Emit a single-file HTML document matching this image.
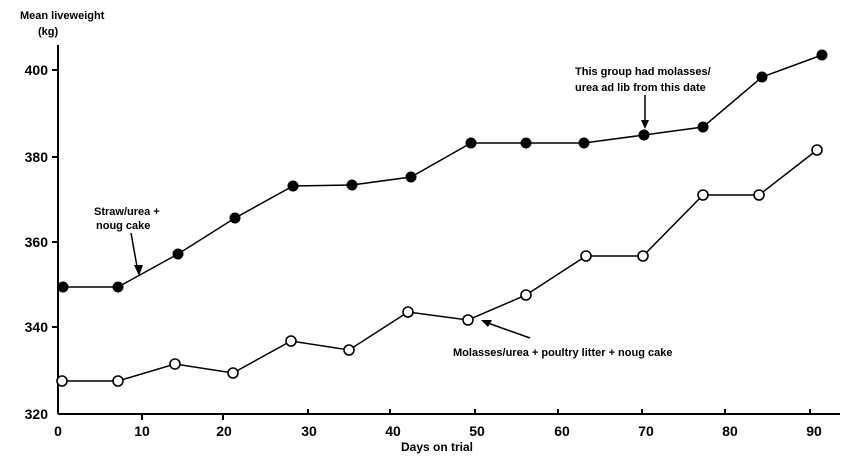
<!DOCTYPE html>
<html><head><meta charset="utf-8"><style>
html,body{margin:0;padding:0;background:#fff;}
svg{display:block;}
text{font-family:"Liberation Sans",sans-serif;font-weight:bold;fill:#000;}
</style></head><body>
<svg width="847" height="465" viewBox="0 0 847 465" xmlns="http://www.w3.org/2000/svg">
<g stroke="#000" stroke-width="2" fill="none">
<line x1="58" y1="45" x2="58" y2="414"/>
<line x1="58" y1="414" x2="840" y2="414"/>
<line x1="52" y1="70" x2="58" y2="70"/>
<line x1="52" y1="157" x2="58" y2="157"/>
<line x1="52" y1="242" x2="58" y2="242"/>
<line x1="52" y1="327" x2="58" y2="327"/>
<line x1="142" y1="414" x2="142" y2="420"/>
<line x1="223" y1="414" x2="223" y2="420"/>
<line x1="308" y1="414" x2="308" y2="409"/>
<line x1="390" y1="414" x2="390" y2="409"/>
<line x1="475" y1="414" x2="475" y2="409"/>
<line x1="558" y1="414" x2="558" y2="409"/>
<line x1="642" y1="414" x2="642" y2="409"/>
<line x1="725" y1="414" x2="725" y2="409"/>
<line x1="810" y1="414" x2="810" y2="409"/>
</g>
<g font-size="14">
<text x="48" y="75" text-anchor="end">400</text>
<text x="48" y="162" text-anchor="end">380</text>
<text x="48" y="247" text-anchor="end">360</text>
<text x="48" y="332" text-anchor="end">340</text>
<text x="48" y="419" text-anchor="end">320</text>
<text x="58" y="436" text-anchor="middle">0</text>
<text x="142" y="436" text-anchor="middle">10</text>
<text x="224" y="436" text-anchor="middle">20</text>
<text x="309" y="436" text-anchor="middle">30</text>
<text x="393" y="436" text-anchor="middle">40</text>
<text x="477" y="436" text-anchor="middle">50</text>
<text x="562" y="436" text-anchor="middle">60</text>
<text x="646" y="436" text-anchor="middle">70</text>
<text x="730" y="436" text-anchor="middle">80</text>
<text x="814" y="436" text-anchor="middle">90</text>
</g>
<g font-size="11">
<text x="20" y="19">Mean liveweight</text>
<text x="38" y="35">(kg)</text>
<text x="437" y="451" text-anchor="middle" font-size="12">Days on trial</text>
<text x="94" y="215">Straw/urea +</text>
<text x="96" y="229">noug cake</text>
<text x="575" y="75">This group had molasses/</text>
<text x="575" y="91">urea ad lib from this date</text>
<text x="453" y="356">Molasses/urea + poultry litter + noug cake</text>
</g>
<g stroke="#000" stroke-width="1.5" fill="none">
<line x1="131" y1="233" x2="138" y2="272"/>
<line x1="645" y1="95" x2="645" y2="124"/>
<line x1="530" y1="338" x2="485" y2="322"/>
</g>
<g fill="#000">
<polygon points="134,265 143,265 139,276"/>
<polygon points="641,120 649,120 645,129"/>
<polygon points="481,320 492,320 488,327"/>
</g>
<polyline fill="none" stroke="#000" stroke-width="1.5" points="63,287 118,287 178,254 235,218 293,186 352,185 411,177 471,143 526,143 584,143 644,135 703,127 762,77 822,55"/>
<g fill="#000">
<circle cx="63" cy="287" r="5.5"/><circle cx="118" cy="287" r="5.5"/><circle cx="178" cy="254" r="5.5"/><circle cx="235" cy="218" r="5.5"/><circle cx="293" cy="186" r="5.5"/><circle cx="352" cy="185" r="5.5"/><circle cx="411" cy="177" r="5.5"/><circle cx="471" cy="143" r="5.5"/><circle cx="526" cy="143" r="5.5"/><circle cx="584" cy="143" r="5.5"/><circle cx="644" cy="135" r="5.5"/><circle cx="703" cy="127" r="5.5"/><circle cx="762" cy="77" r="5.5"/><circle cx="822" cy="55" r="5.5"/>
</g>
<polyline fill="none" stroke="#000" stroke-width="1.5" points="62,381 118,381 175,364 233,373 291,341 349,350 408,312 468,320 526,295 586,256 643,256 703,195 759,195 817,150"/>
<g fill="#fff" stroke="#000" stroke-width="1.6">
<circle cx="62" cy="381" r="5"/><circle cx="118" cy="381" r="5"/><circle cx="175" cy="364" r="5"/><circle cx="233" cy="373" r="5"/><circle cx="291" cy="341" r="5"/><circle cx="349" cy="350" r="5"/><circle cx="408" cy="312" r="5"/><circle cx="468" cy="320" r="5"/><circle cx="526" cy="295" r="5"/><circle cx="586" cy="256" r="5"/><circle cx="643" cy="256" r="5"/><circle cx="703" cy="195" r="5"/><circle cx="759" cy="195" r="5"/><circle cx="817" cy="150" r="5"/>
</g>
</svg>
</body></html>
